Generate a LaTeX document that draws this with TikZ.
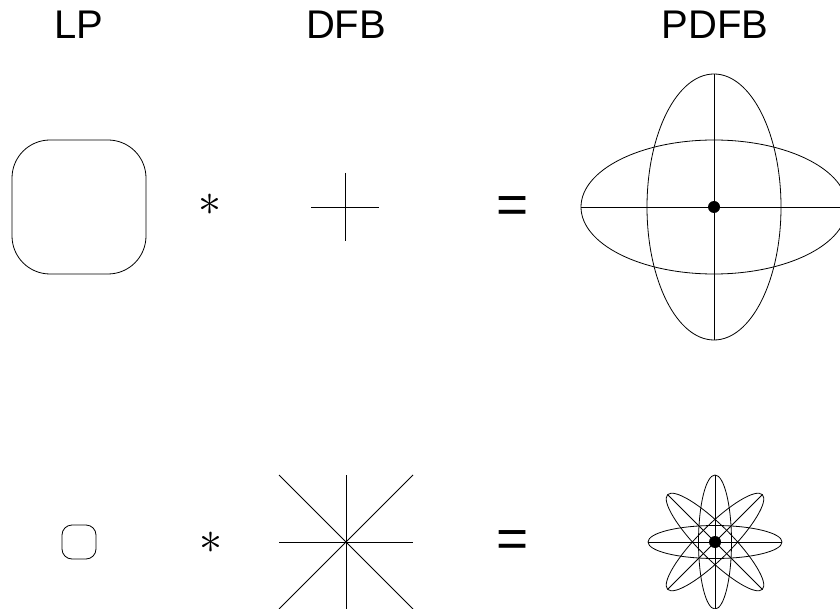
\documentclass[tikz,border=0pt]{standalone}
\usepackage{fontspec}
\setmainfont{Liberation Sans}
\usetikzlibrary{positioning}
\tikzset{
  lbl/.style    = {font=\fontsize{40}{48}\selectfont,anchor=base,inner sep=0pt},
  opsym/.style  = {font=\fontsize{55}{60}\selectfont,inner sep=0pt},
  convsym/.style= {inner sep=0pt},
  filt/.style   = {draw=black,line width=0.8pt},
  ctr/.style    = {fill=black},
}

\begin{document}
\begin{tikzpicture}[x=1pt,y=-1pt]
  \useasboundingbox (0,0) rectangle (840,609);
  \clip (0,0) rectangle (840,609);
  % column titles
  \node[lbl] (lp)   at (79,39)  {LP};
  \node[lbl] (dfb)  at (346,39) {DFB};
  \node[lbl] (pdfb) at (715,39) {PDFB};
  % centres of the two rows
  \coordinate (lpA)   at (79,207);
  \coordinate (dfbA)  at (345,207);
  \coordinate (pdfbA) at (714,207);
  \coordinate (lpB)   at (79,542);
  \coordinate (dfbB)  at (346,542);
  \coordinate (pdfbB) at (715,542);
  % operators
  \node[convsym] (astA) at (210,205) {\scalebox{4.6}{$\ast$}};
  \node[opsym]   (eqA)  at (513,210) {=};
  \node[convsym] (astB) at (211,543) {\scalebox{4.6}{$\ast$}};
  \node[opsym]   (eqB)  at (513,544) {=};
  % LP passbands
  \draw[filt,rounded corners=38] ([shift={(-67,-67)}]lpA) rectangle ([shift={(67,67)}]lpA);
  \draw[filt,rounded corners=10] ([shift={(-17,-17)}]lpB) rectangle ([shift={(17,17)}]lpB);
  % DFB directions
  \begin{scope}[shift={(dfbA)}]
    \draw[filt] (-34,0) -- (34,0);
    \draw[filt] (0,-34) -- (0,34);
  \end{scope}
  \begin{scope}[shift={(dfbB)}]
    \draw[filt] (-67,0) -- (67,0);
    \draw[filt] (0,-67) -- (0,67);
    \draw[filt] (-67,-67) -- (67,67);
    \draw[filt] (-67,67) -- (67,-67);
  \end{scope}
  % PDFB supports
  \begin{scope}[shift={(pdfbA)}]
    \foreach \a in {0,90}{
      \draw[filt,rotate=\a] (0,0) ellipse [x radius=133,y radius=67];
      \draw[filt,rotate=\a] (-133,0) -- (133,0);
    }
    \fill[ctr] (0,0) circle (6);
  \end{scope}
  \begin{scope}[shift={(pdfbB)}]
    \foreach \a in {0,45,90,135}{
      \draw[filt,rotate=\a] (0,0) ellipse [x radius=67,y radius=16.5];
      \draw[filt,rotate=\a] (-67,0) -- (67,0);
    }
    \fill[ctr] (0,0) circle (6);
  \end{scope}
\end{tikzpicture}
\end{document}
